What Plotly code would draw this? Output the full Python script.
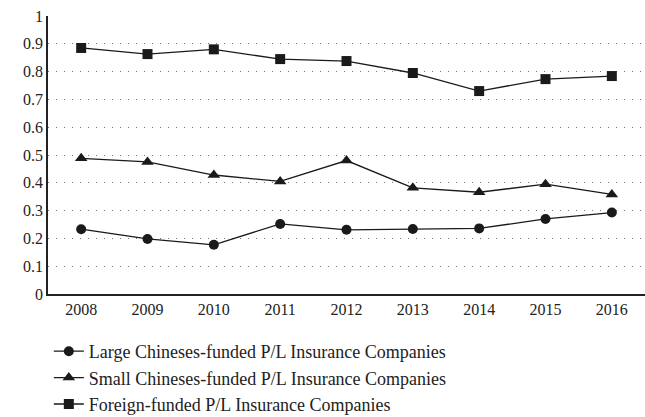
import plotly.graph_objects as go

years = ["2008", "2009", "2010", "2011", "2012", "2013", "2014", "2015", "2016"]
large = [0.233, 0.198, 0.177, 0.252, 0.231, 0.234, 0.236, 0.270, 0.293]
small = [0.488, 0.475, 0.428, 0.405, 0.480, 0.382, 0.366, 0.395, 0.358]
foreign = [0.885, 0.863, 0.880, 0.845, 0.838, 0.795, 0.730, 0.773, 0.784]
yticks = [0, 0.1, 0.2, 0.3, 0.4, 0.5, 0.6, 0.7, 0.8, 0.9, 1]
ytick_text = ["0", "0.1", "0.2", "0.3", "0.4", "0.5", "0.6", "0.7", "0.8", "0.9", "1"]

font = "Liberation Serif"
fig = go.Figure()
series = [
    ("Large Chineses-funded P/L Insurance Companies", large, "circle", 10),
    ("Small Chineses-funded P/L Insurance Companies", small, "triangle-up", 11),
    ("Foreign-funded P/L Insurance Companies", foreign, "square", 10),
]
for name, vals, sym, sz in series:
    fig.add_trace(go.Scatter(
        x=years, y=vals, name=name, mode="lines+markers",
        line=dict(color="#1a1a1a", width=1.3),
        marker=dict(symbol=sym, size=sz, color="#1a1a1a"),
    ))

fig.update_layout(
    width=645, height=417,
    margin=dict(l=48, r=0, t=16, b=123, autoexpand=False),
    paper_bgcolor="white", plot_bgcolor="white",
    font=dict(family=font, size=16, color="#222"),
    showlegend=True,
    legend=dict(orientation="v", xref="container", yref="container",
                x=0.0757, xanchor="left", y=0.2014, yanchor="top",
                font=dict(family=font, size=18, color="#222"),
                tracegroupgap=0, itemwidth=30),
)
fig.update_xaxes(
    type="category", range=[-0.5, 8.5],
    showline=True, linecolor="#222", linewidth=1.5,
    showgrid=False, ticks="", tickfont=dict(family=font, size=16, color="#222"),
)
fig.update_yaxes(
    range=[0, 1], tickvals=yticks, ticktext=ytick_text,
    showline=True, linecolor="#222", linewidth=1.5,
    showgrid=True, gridcolor="#777", griddash="1px,7px", gridwidth=1,
    zeroline=False, ticks="", tickfont=dict(family=font, size=16, color="#222"),
)
fig.write_html(
    "out.html",
    config={"displayModeBar": False},
    post_script="document.body.style.margin='0';document.body.style.overflow='hidden';",
)
